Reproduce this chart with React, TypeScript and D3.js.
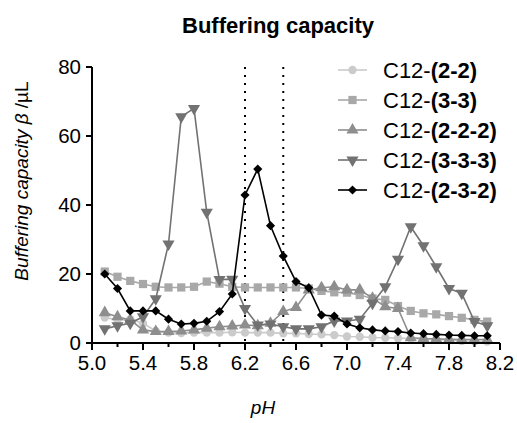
import React from "react";
import * as d3 from "d3";

const pH = d3.range(31).map((i) => +(5.1 + i * 0.1).toFixed(1));

const s22 = [7.4, 6.7, 6.9, 5.7, 3.5, 3.0, 2.9, 3.0, 3.0, 3.0, 3.1, 3.0, 3.0, 3.0, 2.8, 2.8, 2.6, 2.5, 2.3, 1.9, 1.8, 1.6, 1.5, 1.4, 1.3, 1.2, 1.0, 0.8, 0.6, 0.5, 0.4];
const s33 = [20.7, 19.2, 18.0, 17.1, 16.3, 16.1, 16.1, 16.3, 17.8, 17.2, 16.3, 16.1, 16.1, 16.1, 16.1, 16.1, 15.8, 15.1, 14.7, 14.6, 13.9, 12.9, 12.5, 10.7, 9.3, 8.6, 8.3, 7.8, 7.3, 6.7, 6.2];
const s222 = [8.8, 7.6, 6.7, 3.8, 3.3, 3.3, 3.5, 3.8, 4.3, 4.7, 4.9, 5.2, 5.0, 5.7, 9.1, 10.3, 15.4, 16.0, 16.3, 15.4, 15.4, 13.0, 10.5, 10.0, 1.5, 1.3, 1.2, 1.1, 1.0, 1.0, 1.0];
const s333 = [4.1, 5.0, 5.7, 7.6, 12.8, 28.7, 65.6, 68.0, 37.9, 18.4, 18.5, 10.0, 5.2, 5.5, 4.7, 4.1, 4.1, 4.7, 6.4, 6.4, 6.9, 11.5, 16.3, 24.3, 33.7, 28.2, 22.1, 15.8, 14.4, 6.2, 5.0];
const s232 = [20.0, 15.8, 9.3, 9.3, 9.3, 6.9, 5.5, 5.7, 6.3, 9.1, 14.2, 42.9, 50.4, 34.0, 25.2, 17.8, 16.0, 8.1, 7.8, 5.5, 4.4, 3.8, 3.5, 3.3, 2.9, 2.7, 2.5, 2.3, 2.2, 2.1, 2.1];

const seriesNames = ["2-2", "3-3", "2-2-2", "3-3-3", "2-3-2"];
const seriesValues = [s22, s33, s222, s333, s232];
const seriesColors = ["#cbcbcb", "#a8a8a8", "#8e8e8e", "#727272", "#000000"];
const seriesSymbols = ["circle", "square", "triangle", "triangleDown", "diamond"];

const xMajorTicks = [5.0, 5.4, 5.8, 6.2, 6.6, 7.0, 7.4, 7.8, 8.2];
const xMinorTicks = [5.2, 5.6, 6.0, 6.4, 6.8, 7.2, 7.6, 8.0];
const yTicks = [0, 20, 40, 60, 80];
const refLines = [6.2, 6.5];

const FONT = "'Liberation Sans', Arial, Helvetica, sans-serif";

function symbolPath(kind: string): { d: string; rot: number } {
  if (kind === "circle") return { d: d3.symbol(d3.symbolCircle, 55)()!, rot: 0 };
  if (kind === "square") return { d: d3.symbol(d3.symbolSquare, 68)()!, rot: 0 };
  if (kind === "triangle") return { d: d3.symbol(d3.symbolTriangle, 64)()!, rot: 0 };
  if (kind === "triangleDown") return { d: d3.symbol(d3.symbolTriangle, 64)()!, rot: 180 };
  return { d: d3.symbol(d3.symbolSquare, 42)()!, rot: 45 };
}

export default function App() {
  const W = 517, H = 423;
  const x = d3.scaleLinear().domain([5.0, 8.2]).range([92, 500]);
  const y = d3.scaleLinear().domain([0, 80]).range([343, 67]);
  const line = d3.line<number>().x((_, i) => x(pH[i])).y((v) => y(v));

  const legendX = 338;
  const legendY0 = 70;
  const legendDy = 30;

  return (
    <svg width={W} height={H} style={{ position: "absolute", left: 0, top: 0, background: "#fff" }} fontFamily={FONT}>
      <text x={278} y={33} textAnchor="middle" fontSize={22} fontWeight="bold">Buffering capacity</text>

      {refLines.map((v) => (
        <line key={v} x1={x(v)} x2={x(v)} y1={y(80)} y2={y(0)} stroke="#000" strokeWidth={2} strokeDasharray="2,6" />
      ))}

      {seriesValues.map((vals, si) => {
        const sym = symbolPath(seriesSymbols[si]);
        return (
          <g key={si}>
            <path d={line(vals)!} fill="none" stroke={seriesColors[si]} strokeWidth={1.6} />
            {vals.map((v, i) => (
              <path key={i} d={sym.d} fill={seriesColors[si]} transform={`translate(${x(pH[i])},${y(v)}) rotate(${sym.rot})`} />
            ))}
          </g>
        );
      })}

      <line x1={x(5.0)} x2={x(5.0)} y1={y(80)} y2={y(0) + 7} stroke="#000" strokeWidth={2} />
      <line x1={x(5.0) - 6} x2={x(8.2)} y1={y(0)} y2={y(0)} stroke="#000" strokeWidth={2} />
      {yTicks.map((t) => (
        <g key={t}>
          <line x1={x(5.0) - 6} x2={x(5.0)} y1={y(t)} y2={y(t)} stroke="#000" strokeWidth={2} />
          <text x={x(5.0) - 11} y={y(t)} dy="0.36em" textAnchor="end" fontSize={20.5}>{t}</text>
        </g>
      ))}
      {xMajorTicks.map((t) => (
        <g key={t}>
          <line x1={x(t)} x2={x(t)} y1={y(0)} y2={y(0) + 7} stroke="#000" strokeWidth={2} />
          <text x={x(t)} y={370} textAnchor="middle" fontSize={20.5}>{t.toFixed(1)}</text>
        </g>
      ))}
      {xMinorTicks.map((t) => (
        <line key={t} x1={x(t)} x2={x(t)} y1={y(0)} y2={y(0) + 4} stroke="#000" strokeWidth={2} />
      ))}

      <text x={263} y={414} textAnchor="middle" fontSize={19} fontStyle="italic">pH</text>
      <text transform={`translate(28,181) rotate(-90)`} textAnchor="middle" fontSize={19}>
        <tspan fontStyle="italic">Buffering capacity β </tspan>
        <tspan>/µL</tspan>
      </text>

      {seriesNames.map((name, si) => {
        const sym = symbolPath(seriesSymbols[si]);
        const cy = legendY0 + si * legendDy;
        return (
          <g key={name}>
            <line x1={legendX} x2={legendX + 29} y1={cy} y2={cy} stroke={seriesColors[si]} strokeWidth={1.6} />
            <path d={sym.d} fill={seriesColors[si]} transform={`translate(${legendX + 14.5},${cy}) rotate(${sym.rot})`} />
            <text x={383} y={cy} dy="0.36em" fontSize={22}>
              <tspan>C12-</tspan>
              <tspan fontWeight="bold">({name})</tspan>
            </text>
          </g>
        );
      })}
    </svg>
  );
}
